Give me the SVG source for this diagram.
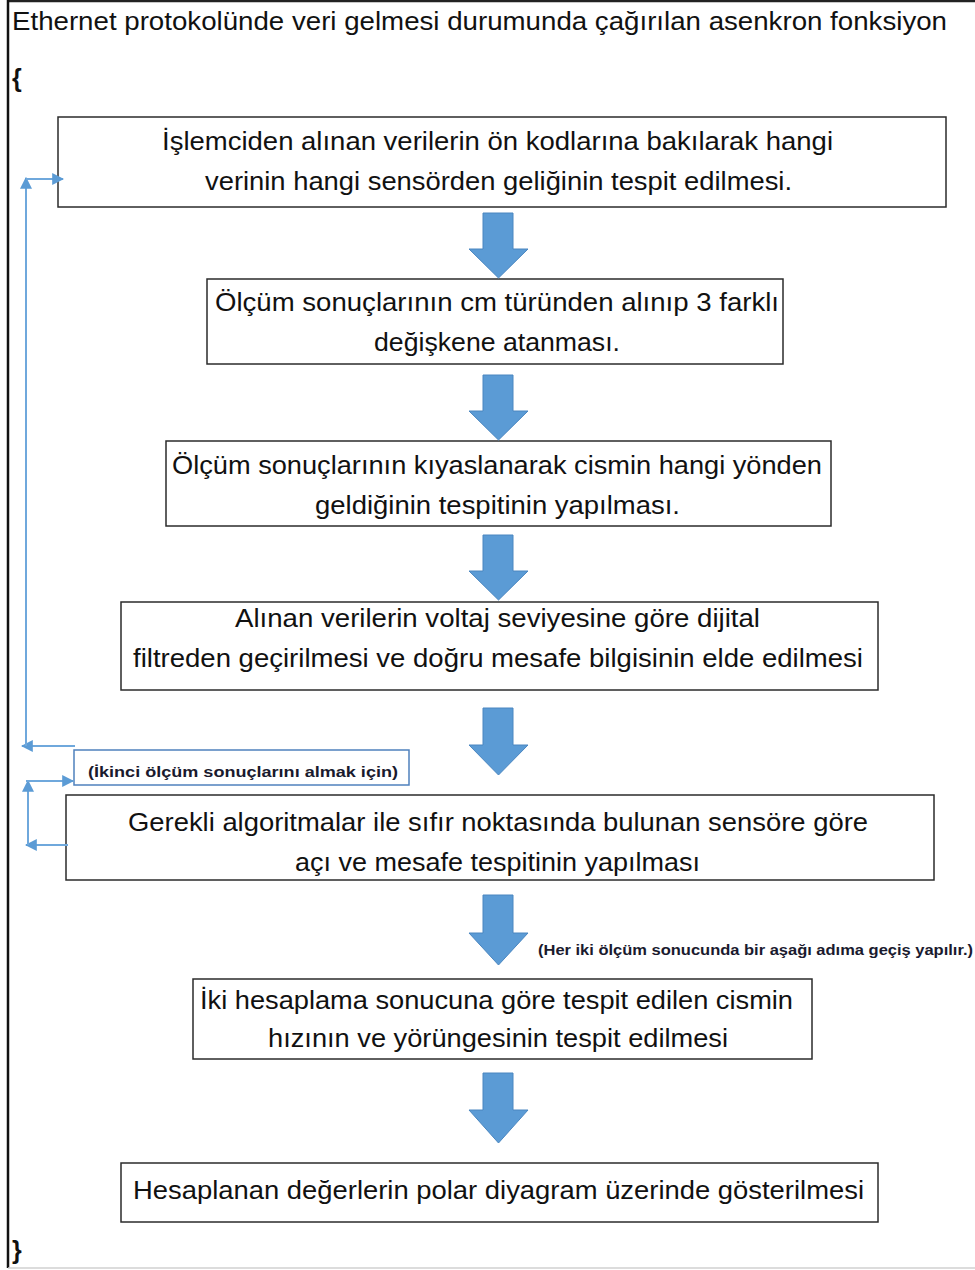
<svg xmlns="http://www.w3.org/2000/svg" width="975" height="1270" viewBox="0 0 975 1270">
<defs>
<style>
.box{fill:#fff;stroke:#2b2b2b;stroke-width:1.5}
.t{font-family:"Liberation Sans",Arial,sans-serif;font-size:25px;fill:#111}
.s{font-family:"Liberation Sans",Arial,sans-serif;font-size:14.5px;font-weight:bold;fill:#1a1a2e}
.ba{fill:#5b9bd5;stroke:#4a86c0;stroke-width:1}
.cn{fill:none;stroke:#6fa8dc;stroke-width:2}
</style>
<marker id="ah" viewBox="0 0 10 10" refX="9" refY="5" markerWidth="12" markerHeight="12" markerUnits="userSpaceOnUse" orient="auto">
<path d="M0,0 L10,5 L0,10 z" fill="#5b9bd5"/>
</marker>
</defs>
<rect width="975" height="1270" fill="#fff"/>
<line x1="8" y1="1" x2="975" y2="1" stroke="#222" stroke-width="2.5"/>
<line x1="8" y1="0" x2="8" y2="1268" stroke="#111" stroke-width="2.5"/>
<line x1="8" y1="1268" x2="975" y2="1268" stroke="#d0d0d0" stroke-width="1.5"/>
<text class="t" x="12" y="30" font-size="24" textLength="935" lengthAdjust="spacingAndGlyphs">Ethernet protokolünde veri gelmesi  durumunda çağırılan asenkron fonksiyon</text>
<text class="t" x="12" y="87" font-weight="bold">{</text>
<text class="t" x="12" y="1259" font-weight="bold">}</text>

<g id="n1">
<rect class="box" x="58" y="117" width="888" height="90"/>
<text class="t" x="162" y="150" textLength="671" lengthAdjust="spacingAndGlyphs">İşlemciden alınan verilerin ön kodlarına bakılarak hangi</text>
<text class="t" x="205" y="190" textLength="587" lengthAdjust="spacingAndGlyphs">verinin hangi sensörden geliğinin tespit edilmesi.</text>
</g>
<g id="n2">
<rect class="box" x="207" y="279" width="576" height="85"/>
<text class="t" x="215" y="311" textLength="564" lengthAdjust="spacingAndGlyphs">Ölçüm sonuçlarının cm türünden alınıp 3 farklı</text>
<text class="t" x="374" y="351" textLength="246" lengthAdjust="spacingAndGlyphs">değişkene atanması.</text>
</g>
<g id="n3">
<rect class="box" x="166" y="441" width="665" height="85"/>
<text class="t" x="172" y="474" textLength="650" lengthAdjust="spacingAndGlyphs">Ölçüm sonuçlarının kıyaslanarak cismin hangi yönden</text>
<text class="t" x="315" y="514" textLength="365" lengthAdjust="spacingAndGlyphs">geldiğinin tespitinin yapılması.</text>
</g>
<g id="n4">
<rect class="box" x="121" y="602" width="757" height="88"/>
<text class="t" x="235" y="627" textLength="525" lengthAdjust="spacingAndGlyphs">Alınan verilerin voltaj seviyesine göre dijital</text>
<text class="t" x="133" y="667" textLength="730" lengthAdjust="spacingAndGlyphs">filtreden geçirilmesi ve doğru mesafe bilgisinin elde edilmesi</text>
</g>
<g id="n5">
<rect x="74" y="750" width="335" height="35" fill="#fff" stroke="#4f81bd" stroke-width="1.5"/>
<text class="s" x="88" y="777" textLength="310" lengthAdjust="spacingAndGlyphs">(İkinci ölçüm  sonuçlarını  almak  için)</text>
</g>
<g id="n6">
<rect class="box" x="66" y="795" width="868" height="85"/>
<text class="t" x="128" y="831" textLength="740" lengthAdjust="spacingAndGlyphs">Gerekli algoritmalar ile sıfır noktasında bulunan sensöre göre</text>
<text class="t" x="295" y="871" textLength="405" lengthAdjust="spacingAndGlyphs">açı ve mesafe tespitinin  yapılması</text>
</g>
<g id="n7">
<text class="s" x="538" y="955" textLength="435" lengthAdjust="spacingAndGlyphs">(Her iki ölçüm sonucunda  bir aşağı adıma geçiş yapılır.)</text>
</g>
<g id="n8">
<rect class="box" x="193" y="979" width="619" height="80"/>
<text class="t" x="200" y="1009" textLength="593" lengthAdjust="spacingAndGlyphs">İki hesaplama sonucuna göre tespit edilen cismin</text>
<text class="t" x="268" y="1047" textLength="460" lengthAdjust="spacingAndGlyphs">hızının ve yörüngesinin tespit edilmesi</text>
</g>
<g id="n9">
<rect class="box" x="121" y="1163" width="757" height="59"/>
<text class="t" x="133" y="1199" textLength="731" lengthAdjust="spacingAndGlyphs">Hesaplanan değerlerin polar diyagram üzerinde gösterilmesi</text>
</g>

<g id="connectors">
<polygon class="ba" points="483,213 513,213 513,249 528,249 498.5,278 469,249 483,249"/>
<polygon class="ba" points="483,375 513,375 513,411 528,411 498.5,440 469,411 483,411"/>
<polygon class="ba" points="483,535 513,535 513,571 528,571 498.5,600 469,571 483,571"/>
<polygon class="ba" points="483,708 513,708 513,745 528,745 498.5,775 469,745 483,745"/>
<polygon class="ba" points="483,895 513,895 513,933 528,933 498.5,965 469,933 483,933"/>
<polygon class="ba" points="483,1073 513,1073 513,1110 528,1110 498.5,1143 469,1110 483,1110"/>
<line class="cn" x1="75" y1="746" x2="22" y2="746" marker-end="url(#ah)"/>
<line class="cn" x1="26" y1="746" x2="26" y2="178" marker-end="url(#ah)"/>
<line class="cn" x1="26" y1="179" x2="63" y2="179" marker-end="url(#ah)"/>
<line class="cn" x1="68" y1="845" x2="26" y2="845" marker-end="url(#ah)"/>
<line class="cn" x1="28" y1="845" x2="28" y2="781" marker-end="url(#ah)"/>
<line class="cn" x1="26" y1="781" x2="73" y2="781" marker-end="url(#ah)"/>
</g>
</svg>
